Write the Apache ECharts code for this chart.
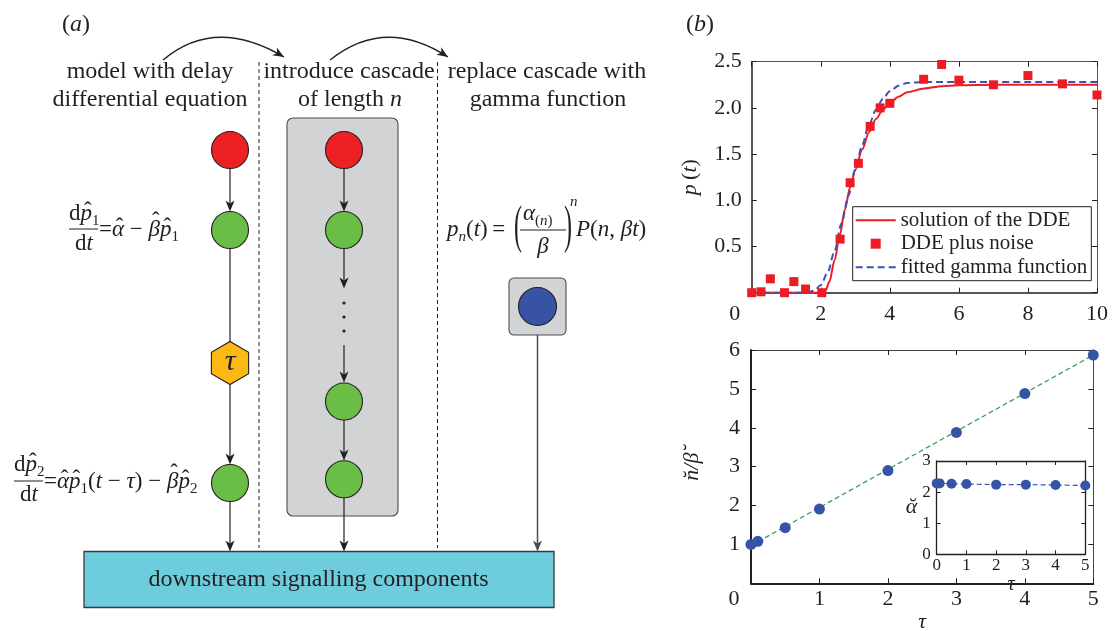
<!DOCTYPE html>
<html><head><meta charset="utf-8">
<script src="https://cdn.jsdelivr.net/npm/echarts/dist/echarts.min.js"></script>
<style>html,body{margin:0;padding:0;background:#fff}#c{width:1113px;height:631px}</style>
</head><body><div id="c"></div>
<script>
// ---------------- data ----------------
// panel (b) top: p(t)
const tNoise = [0, 0.27, 0.54, 0.95, 1.22, 1.56, 2.03, 2.56, 2.85, 3.09, 3.43, 3.72, 4.0, 4.98, 5.5, 6.0, 7.0, 8.0, 9.0, 10.0];
const pNoise = [0, 0.01, 0.15, 0, 0.12, 0.04, 0, 0.58, 1.19, 1.40, 1.80, 2.00, 2.05, 2.31, 2.47, 2.30, 2.25, 2.35, 2.26, 2.14];
const tDDE = [0, 1.5, 2.05, 2.15, 2.25, 2.4, 2.55, 2.7, 2.85, 3.0, 3.2, 3.4, 3.6, 3.8, 4.0, 4.25, 4.5, 5.0, 5.5, 6.0, 7.0, 10.0];
const pDDE = [0, 0, 0, 0.03, 0.12, 0.35, 0.62, 0.90, 1.14, 1.33, 1.55, 1.74, 1.88, 1.98, 2.05, 2.12, 2.17, 2.21, 2.235, 2.245, 2.25, 2.25];
const tGamma = [0, 1.6, 1.8, 2.0, 2.2, 2.4, 2.6, 2.8, 3.0, 3.2, 3.4, 3.6, 3.8, 4.0, 4.25, 4.5, 5.0, 10.0];
const pGamma = [0, 0, 0.02, 0.08, 0.22, 0.45, 0.75, 1.05, 1.33, 1.60, 1.82, 1.98, 2.10, 2.18, 2.24, 2.27, 2.28, 2.28];
// panel (b) bottom: n/beta vs tau, and inset alpha vs tau
const tau = [0, 0.1, 0.5, 1, 2, 3, 4, 5];
const nOverBeta = [1.0, 1.08, 1.43, 1.91, 2.90, 3.88, 4.88, 5.87];
const fitTau = [0, 5];
const fitNB = [0.97, 5.87];
const alphaHat = [2.28, 2.28, 2.27, 2.26, 2.24, 2.24, 2.23, 2.21];
const legendNames = ['solution of the DDE', 'DDE plus noise', 'fitted gamma function'];

const zip = (a, b) => a.map((v, i) => [v, b[i]]);

// ---------------- style helpers ----------------
const FONT = '"Liberation Serif", "Times New Roman", "DejaVu Serif", serif';
const INK = '#231f20';
const cv = document.createElement('canvas').getContext('2d');
function fnt(size, italic) { return (italic ? 'italic ' : '') + size + 'px ' + FONT; }
function txt(s, x, y, size, italic, align, rich) {
  const st = { text: s, x: x, y: y, font: fnt(size, italic), fill: INK,
    align: align || 'left', textAlign: align || 'left', verticalAlign: 'middle', textVerticalAlign: 'middle' };
  if (rich) st.rich = rich;
  return { type: 'text', z: 10, silent: true, style: st };
}
const G = [];
// math run: sequential pieces measured with canvas
function run(x, y, parts, size) {
  size = size || 23;
  const small = Math.round(size * 0.66);
  let cx = x;
  for (const p of parts) {
    const s = p[0], kind = p[1], hat = p[2];
    const isSub = kind === 'sub' || kind === 'isub';
    const isSup = kind === 'sup' || kind === 'isup';
    const it = kind[0] === 'i';
    const sz = (isSub || isSup) ? small : size;
    const f = fnt(sz, it);
    cv.font = f;
    const w = cv.measureText(s).width;
    const dy = isSub ? size * 0.3 : isSup ? -size * 0.42 : 0;
    G.push(txt(s, cx, y + dy, sz, it, 'left'));
    if (hat !== undefined) G.push(txt('\u02C6', cx + w / 2 + (it ? 1.5 : 0), y + hat, size, false, 'center'));
    cx += w;
  }
  return cx;
}
function line(x1, y1, x2, y2, color, width, dash) {
  const st = { stroke: color || INK, lineWidth: width || 1.2 };
  if (dash) st.lineDash = dash;
  G.push({ type: 'line', silent: true, z: 3, shape: { x1, y1, x2, y2 }, style: st });
}
function head(tx, ty, dx, dy, color) {
  const n = Math.hypot(dx, dy); dx /= n; dy /= n;
  const L = 11, W = 4.5, N = 3;
  const px = -dy, py = dx, bx = tx - dx * L, by = ty - dy * L;
  G.push({ type: 'polygon', silent: true, z: 5, shape: { points: [[tx, ty], [bx + px * W, by + py * W], [tx - dx * (L - N), ty - dy * (L - N)], [bx - px * W, by - py * W]] },
    style: { fill: color || INK, stroke: null } });
}
function arrow(x, y1, y2, color, width) {
  line(x, y1, x, y2 - 6, color, width);
  head(x, y2, 0, 1, color);
}
function circle(cx, cy, r, fill) {
  G.push({ type: 'circle', silent: true, z: 4, shape: { cx, cy, r }, style: { fill, stroke: INK, lineWidth: 1.1 } });
}
function rect(x, y, w, h, r, fill, stroke, lw) {
  G.push({ type: 'rect', silent: true, z: 1, shape: { x, y, width: w, height: h, r }, style: { fill, stroke, lineWidth: lw || 1 } });
}
function arc(x1, y1, cx, cy, x2, y2) {
  G.push({ type: 'bezierCurve', silent: true, z: 3, shape: { x1, y1, x2, y2, cpx1: cx, cpy1: cy }, style: { stroke: INK, fill: 'none', lineWidth: 1.3 } });
  head(x2, y2, x2 - cx, y2 - cy);
}
function bigParen(ch, x, y) {
  G.push({ type: 'text', z: 10, silent: true, scaleX: 0.8, scaleY: 1.75, originX: x, originY: y,
    style: { text: ch, x: x, y: y, font: fnt(30, false), fill: INK, align: 'center', textAlign: 'center', verticalAlign: 'middle', textVerticalAlign: 'middle' } });
}

// ---------------- panel (a) diagram ----------------
const RED = '#ed2024', GREEN = '#6abd45', YEL = '#fdb913', BLUE = '#3953a4', GREY = '#d1d3d4', CYAN = '#6dcddd';
G.push(txt('({i|a})', 76, 25, 24, false, 'center', { i: { font: fnt(24, true) } }));
G.push(txt('({i|b})', 700, 25, 24, false, 'center', { i: { font: fnt(24, true) } }));
G.push(txt('model with delay', 150, 72, 24, false, 'center'));
G.push(txt('differential equation', 150, 100, 24, false, 'center'));
G.push(txt('introduce cascade', 349, 72, 24, false, 'center'));
G.push(txt('of length {i|n}', 350, 100, 24, false, 'center', { i: { font: fnt(24, true) } }));
G.push(txt('replace cascade with', 547, 72, 24, false, 'center'));
G.push(txt('gamma function', 548, 100, 24, false, 'center'));
arc(163, 60, 215, 16, 284, 57);
arc(330, 60, 385, 16, 448, 57);
line(259, 62, 259, 548, INK, 1, [4, 3]);
line(437.5, 62, 437.5, 548, INK, 1, [4, 3]);

// downstream box
rect(84, 551.5, 470, 56, 0, CYAN, '#3a3a3a', 1.3);
G.push(txt('downstream signalling components', 318.5, 580, 24, false, 'center'));

// left column
circle(230, 150, 18.5, RED);
arrow(230, 168.5, 211.5);
circle(230, 230, 18.5, GREEN);
line(230, 248.5, 230, 342);
(function () {
  const R = 21.5, pts = [];
  for (let k = 0; k < 6; k++) { const a = Math.PI / 2 + k * Math.PI / 3; pts.push([230 + R * Math.cos(a), 363 + R * Math.sin(a)]); }
  G.push({ type: 'polygon', silent: true, z: 4, shape: { points: pts }, style: { fill: YEL, stroke: INK, lineWidth: 1.1 } });
})();
G.push(txt('\u03C4', 230, 362, 30, true, 'center'));
arrow(230, 384.5, 464.5);
circle(230, 483, 18.5, GREEN);
arrow(230, 501.5, 551.5);

// middle column
rect(287, 118, 111, 398, 6, GREY, '#4d4d4f', 1.1);
circle(344, 150, 18.5, RED);
arrow(344, 168.5, 211.5);
circle(344, 230, 18.5, GREEN);
arrow(344, 248.5, 288.5);
[303, 317, 331].forEach(y => G.push({ type: 'circle', silent: true, z: 4, shape: { cx: 344, cy: y, r: 1.6 }, style: { fill: INK } }));
arrow(344, 345, 382.5);
circle(344, 401.5, 18.5, GREEN);
arrow(344, 420, 460.5);
circle(344, 479.3, 18.5, GREEN);
arrow(344, 497.8, 551.5);

// right column
rect(509, 278, 57, 57, 5, GREY, '#4d4d4f', 1.1);
circle(537.5, 306.5, 19, BLUE);
arrow(537.5, 335, 551.5, '#4d4d4f', 1.5);

// equation 1
run(69, 214, [['d', 'r'], ['p', 'i', -2], ['1', 'sub']]);
line(69, 229, 98, 229, INK, 1);
run(75, 244, [['d', 'r'], ['t', 'i']]);
run(99, 230, [['=', 'r'], ['\u03B1', 'i', -2], [' \u2212 ', 'r'], ['\u03B2', 'i', -8], ['p', 'i', -2], ['1', 'sub']]);
// equation 2
run(14, 465, [['d', 'r'], ['p', 'i', -2], ['2', 'sub']]);
line(14, 481, 43, 481, INK, 1);
run(20, 495, [['d', 'r'], ['t', 'i']]);
run(44, 482, [['=', 'r'], ['\u03B1', 'i', -2], ['p', 'i', -2], ['1', 'sub'], ['(', 'r'], ['t', 'i'], [' \u2212 ', 'r'], ['\u03C4', 'i'], [')', 'r'], [' \u2212 ', 'r'], ['\u03B2', 'i', -8], ['p', 'i', -2], ['2', 'sub']]);
// equation 3 (gamma function)
run(447, 230, [['p', 'i'], ['n', 'isub'], ['(', 'r'], ['t', 'i'], [')', 'r'], ['\u2009=', 'r']]);
bigParen('(', 518, 228);
run(523, 214, [['\u03B1', 'i'], ['(', 'sub'], ['n', 'isub'], [')', 'sub']]);
line(520, 230, 566, 230, INK, 1);
G.push(txt('\u03B2', 543, 247, 23, true, 'center'));
bigParen(')', 568, 228);
G.push(txt('n', 570, 202, 15, true, 'left'));
run(576, 230, [['P', 'i'], ['(', 'r'], ['n', 'i'], [', ', 'r'], ['\u03B2', 'i'], ['t', 'i'], [')', 'r']]);

// ---------------- panel (b) charts ----------------
function axis(o) {
  const lab = o.label || {};
  const a = {
    type: 'value', gridIndex: o.grid, position: o.pos, min: o.min, max: o.max, interval: o.interval,
    splitLine: { show: false },
    axisLine: { show: true, onZero: false, lineStyle: { color: o.lineColor || INK, width: o.lw || 1.5 } },
    axisTick: { show: true, inside: true, length: o.tick || 5, lineStyle: { color: INK, width: 1 } },
    axisLabel: Object.assign({ show: !o.noLabel, color: INK, fontFamily: FONT, fontSize: o.fs || 22, margin: o.margin || 10,
      showMinLabel: true, showMaxLabel: true, hideOverlap: false }, lab),
    axisPointer: { show: false }
  };
  if (o.name) {
    a.name = o.name; a.nameLocation = 'middle'; a.nameGap = o.nameGap;
    a.nameTextStyle = Object.assign({ color: INK, fontFamily: FONT, fontSize: o.nfs || 22 }, o.nts || {});
    if (o.nameRotate !== undefined) a.nameRotate = o.nameRotate;
  }
  return a;
}
const shiftZero = { s: { padding: [0, 34, 0, 0], fontSize: 22, fontFamily: FONT, color: INK } };
const xFmt = v => v === 0 ? '{s|0}' : String(v);

const option = {
  animation: false,
  backgroundColor: '#fff',
  grid: [
    { left: 751.7, top: 61.7, width: 345.3, height: 231, show: false, outerBoundsMode: 'none' },
    { left: 751, top: 350, width: 342.3, height: 233.3, show: false, outerBoundsMode: 'none' },
    { left: 936.7, top: 461, width: 148.6, height: 93.3, show: true, backgroundColor: '#fff', borderWidth: 0, outerBoundsMode: 'none' }
  ],
  xAxis: [
    axis({ grid: 0, pos: 'bottom', min: 0, max: 10, interval: 2, margin: 11, label: { formatter: xFmt, rich: shiftZero } }),
    axis({ grid: 0, pos: 'top', min: 0, max: 10, interval: 2, noLabel: true, lw: 1, lineColor: '#555' }),
    axis({ grid: 1, pos: 'bottom', min: 0, max: 5, interval: 1, lw: 2, margin: 5, label: { formatter: xFmt, rich: shiftZero },
      name: '\u03C4', nameGap: 21, nts: { fontStyle: 'italic' } }),
    axis({ grid: 1, pos: 'top', min: 0, max: 5, interval: 1, noLabel: true, lw: 1, lineColor: '#444' }),
    axis({ grid: 2, pos: 'bottom', min: 0, max: 5, interval: 1, lw: 1.3, fs: 17, margin: 3, tick: 4,
      name: '\u03C4', nameGap: 10, nfs: 20, nts: { fontStyle: 'italic' } }),
    axis({ grid: 2, pos: 'top', min: 0, max: 5, interval: 1, noLabel: true, lw: 1.3, tick: 4 })
  ],
  yAxis: [
    axis({ grid: 0, pos: 'left', min: 0, max: 2.5, interval: 0.5, margin: 10, label: { formatter: v => v === 0 ? '' : v.toFixed(1) },
      name: '{i|p}\u2009({i|t})', nameGap: 50, nts: { rich: { i: { fontStyle: 'italic', fontFamily: FONT, fontSize: 22, color: INK } } } }),
    axis({ grid: 0, pos: 'right', min: 0, max: 2.5, interval: 0.5, noLabel: true, lw: 1, lineColor: '#555' }),
    axis({ grid: 1, pos: 'left', min: 0, max: 6, interval: 1, lw: 2, margin: 11, label: { formatter: v => v === 0 ? '' : String(v) },
      name: 'n\u0306/\u03B2\u0306', nameGap: 48, nts: { fontStyle: 'italic' } }),
    axis({ grid: 1, pos: 'right', min: 0, max: 6, interval: 1, noLabel: true, lw: 1, lineColor: '#444' }),
    axis({ grid: 2, pos: 'left', min: 0, max: 3, interval: 1, lw: 1.3, fs: 17, margin: 6, tick: 4,
      name: '\u03B1\u0306', nameGap: 19, nameRotate: 0, nfs: 22, nts: { fontStyle: 'italic' } }),
    axis({ grid: 2, pos: 'right', min: 0, max: 3, interval: 1, noLabel: true, lw: 1.3, tick: 4 })
  ],
  legend: {
    data: [
      { name: legendNames[0], itemStyle: { opacity: 0 } },
      { name: legendNames[1], icon: 'path://M0,0L10,0L10,10L0,10Z' },
      { name: legendNames[2], itemStyle: { opacity: 0 } }
    ],
    orient: 'vertical', left: 852.7, top: 206.7, itemWidth: 40, itemHeight: 10, itemGap: 2.5,
    padding: [3, 4, 3, 2], backgroundColor: '#fff', borderColor: INK, borderWidth: 1, borderRadius: 0,
    selectedMode: false, symbolKeepAspect: true,
    textStyle: { fontFamily: FONT, fontSize: 21, color: INK }
  },
  graphic: G,
  series: [
    { name: legendNames[0], type: 'line', xAxisIndex: 0, yAxisIndex: 0, data: zip(tDDE, pDDE), symbol: 'none',
      smooth: 0.3, smoothMonotone: 'x', lineStyle: { color: '#ed1c24', width: 2 }, itemStyle: { color: '#ed1c24' }, z: 3 },
    { name: legendNames[1], type: 'scatter', xAxisIndex: 0, yAxisIndex: 0, data: zip(tNoise, pNoise), symbol: 'rect',
      symbolSize: 9, itemStyle: { color: '#ed1c24', opacity: 1 }, z: 4, clip: false },
    { name: legendNames[2], type: 'line', xAxisIndex: 0, yAxisIndex: 0, data: zip(tGamma, pGamma), symbol: 'none',
      smooth: 0.3, smoothMonotone: 'x', lineStyle: { color: '#3a54b0', width: 2, type: [7, 4] }, itemStyle: { color: '#3a54b0' }, z: 3 },
    { type: 'line', xAxisIndex: 2, yAxisIndex: 2, data: zip(fitTau, fitNB), symbol: 'none',
      lineStyle: { color: '#2e9a4c', width: 1.2, type: [5, 3] }, z: 2 },
    { type: 'scatter', xAxisIndex: 2, yAxisIndex: 2, data: zip(tau, nOverBeta), symbolSize: 11,
      itemStyle: { color: '#3654a5', opacity: 1 }, z: 3, clip: false },
    { type: 'line', xAxisIndex: 4, yAxisIndex: 4, data: zip(tau, alphaHat), symbol: 'circle', symbolSize: 10, showSymbol: true,
      lineStyle: { color: '#3a54b0', width: 1.2, type: [5, 3] }, itemStyle: { color: '#3654a5', opacity: 1 }, z: 5, clip: false }
  ]
};
const chart = echarts.init(document.getElementById('c'), null, { renderer: 'canvas' });
chart.setOption(option);
</script>
</body></html>
